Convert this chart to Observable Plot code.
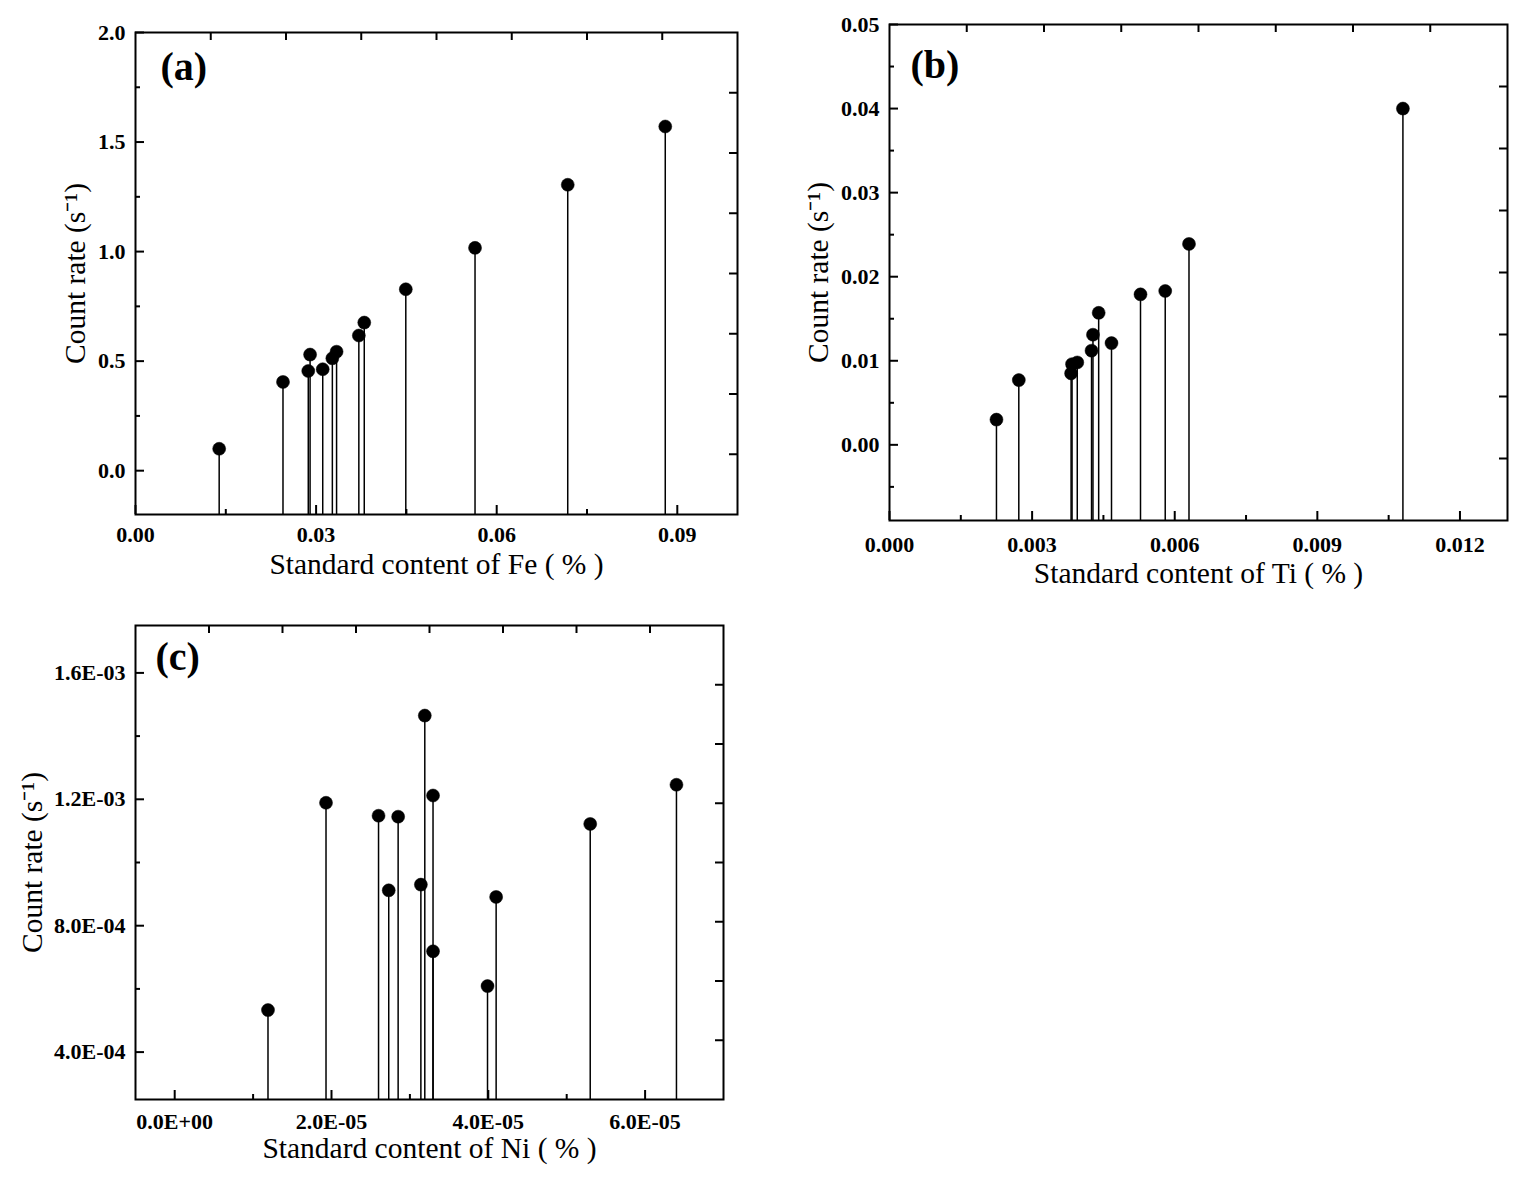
<!DOCTYPE html>
<html>
<head>
<meta charset="utf-8">
<script src="https://cdn.jsdelivr.net/npm/d3@7"></script>
<script src="https://cdn.jsdelivr.net/npm/@observablehq/plot@0.6"></script>
<style>
  body { margin: 0; background: #fff; }
  #root { position: relative; width: 1527px; height: 1201px; background: #fff; overflow: hidden; }
  .panel { position: absolute; }
</style>
</head>
<body>
<div id="root"></div>
<script>
// ---------- Panel (a): Fe ----------
const feContent = [0.0139, 0.0245, 0.0287, 0.0290, 0.0311, 0.0327, 0.0334, 0.0371, 0.0380, 0.0449, 0.0564, 0.0718, 0.0880];
const feRate    = [0.100, 0.405, 0.455, 0.530, 0.463, 0.513, 0.543, 0.617, 0.676, 0.828, 1.017, 1.305, 1.571];
const feXMajor = [0, 0.03, 0.06, 0.09];
const feXMinor = [0.015, 0.045, 0.075];
const feYMajor = [0, 0.5, 1.0, 1.5, 2.0];
const feYMinor = [0.25, 0.75, 1.25, 1.75];
const feTopTicks = [0.0125, 0.025, 0.0375, 0.05, 0.0625, 0.075, 0.0875];
const feRightTicks = [0.075, 0.35, 0.625, 0.9, 1.175, 1.45, 1.725];

// ---------- Panel (b): Ti ----------
const tiContent = [0.00225, 0.00272, 0.00382, 0.00384, 0.00395, 0.00425, 0.00428, 0.00440, 0.00467, 0.00528, 0.00580, 0.00630, 0.01080];
const tiRate    = [0.0030, 0.0077, 0.0085, 0.0096, 0.0098, 0.0112, 0.0131, 0.0157, 0.0121, 0.0179, 0.0183, 0.0239, 0.0400];
const tiXMajor = [0, 0.003, 0.006, 0.009, 0.012];
const tiXMinor = [0.0015, 0.0045, 0.0075, 0.0105];
const tiYMajor = [0, 0.01, 0.02, 0.03, 0.04, 0.05];
const tiYMinor = [-0.005, 0.005, 0.015, 0.025, 0.035, 0.045];
const tiTopTicks = [0.001625, 0.00325, 0.004875, 0.0065, 0.008125, 0.00975, 0.011375];
const tiRightTicks = [-0.001625, 0.00575, 0.013125, 0.0205, 0.027875, 0.03525, 0.042625];

// ---------- Panel (c): Ni ----------
const niContent = [1.19e-5, 1.93e-5, 2.60e-5, 2.73e-5, 2.85e-5, 3.14e-5, 3.19e-5, 3.295e-5, 3.295e-5, 3.99e-5, 4.10e-5, 5.30e-5, 6.40e-5];
const niRate    = [5.33e-4, 1.189e-3, 1.148e-3, 9.12e-4, 1.145e-3, 9.30e-4, 1.465e-3, 1.212e-3, 7.19e-4, 6.09e-4, 8.91e-4, 1.122e-3, 1.246e-3];
const niXMajor = [0, 2e-5, 4e-5, 6e-5];
const niXMinor = [1e-5, 3e-5, 5e-5];
const niYMajor = [4e-4, 8e-4, 1.2e-3, 1.6e-3];
const niYMinor = [6e-4, 1.0e-3, 1.4e-3];
const niTopTicks = [4.375e-6, 1.375e-5, 2.3125e-5, 3.25e-5, 4.1875e-5, 5.125e-5, 6.0625e-5];
const niRightTicks = [4.375e-4, 6.25e-4, 8.125e-4, 1.0e-3, 1.1875e-3, 1.375e-3, 1.5625e-3];

const yTitle = "Count rate (s\u207B\u00B9)";
const FONT = "'Liberation Serif', 'Times New Roman', serif";

function sciFmt(v) {
  const [m, e] = v.toExponential(1).split("e");
  const sign = e[0] === "-" ? "-" : "+";
  const digits = e.replace(/^[+-]/, "").padStart(2, "0");
  return m + "E" + sign + digits;
}

function makePanel(cfg) {
  const W = cfg.width, H = cfg.height;
  const fw = W - cfg.ml - cfg.mr;
  const fh = H - cfg.mt - cfg.mb;
  const data = cfg.xs.map((x, i) => ({x, y: cfg.ys[i]}));
  const ymin = cfg.yDomain[0];
  return Plot.plot({
    width: W, height: H,
    marginLeft: cfg.ml, marginRight: cfg.mr, marginTop: cfg.mt, marginBottom: cfg.mb,
    style: {fontFamily: FONT, background: "transparent", color: "black", overflow: "visible"},
    x: {domain: cfg.xDomain},
    y: {domain: cfg.yDomain},
    marks: [
      // stems
      Plot.ruleX(data, {x: "x", y1: ymin, y2: "y", stroke: "black", strokeWidth: 1.5}),
      Plot.dot(data, {x: "x", y: "y", r: 6.5, fill: "black", stroke: "black", strokeWidth: 0.5}),
      // inward ticks: bottom major/minor
      Plot.tickX(cfg.xMajor, {x: d => d, insetTop: fh - 9, stroke: "black", strokeWidth: 2}),
      Plot.tickX(cfg.xMinor, {x: d => d, insetTop: fh - 5, stroke: "black", strokeWidth: 2}),
      // left major/minor
      Plot.tickY(cfg.yMajor, {y: d => d, insetRight: fw - 9, stroke: "black", strokeWidth: 2}),
      Plot.tickY(cfg.yMinor, {y: d => d, insetRight: fw - 5, stroke: "black", strokeWidth: 2}),
      // top and right ticks
      Plot.tickX(cfg.topTicks, {x: d => d, insetBottom: fh - 8, stroke: "black", strokeWidth: 2}),
      Plot.tickY(cfg.rightTicks, {y: d => d, insetLeft: fw - 8, stroke: "black", strokeWidth: 2}),
      Plot.frame({stroke: "black", strokeWidth: 2}),
      // tick labels
      Plot.axisX({ticks: cfg.xMajor, tickSize: 0, tickPadding: cfg.xPad, tickFormat: cfg.xFmt, label: null,
                  fontSize: 22, fontWeight: "bold", fontFamily: FONT}),
      Plot.axisY({ticks: cfg.yMajor, tickSize: 0, tickPadding: 10, tickFormat: cfg.yFmt, label: null,
                  fontSize: 22, fontWeight: "bold", fontFamily: FONT}),
      // titles
      Plot.text([cfg.xTitle], {frameAnchor: "bottom", lineAnchor: "middle", dy: cfg.xTitleDy, fontSize: 29.5, fontFamily: FONT, textAnchor: "middle"}),
      Plot.text([yTitle], {frameAnchor: "left", lineAnchor: "middle", dx: cfg.yTitleDx, rotate: -90, fontSize: 29.5, fontFamily: FONT, textAnchor: "middle"}),
      Plot.text([cfg.tag], {frameAnchor: "top-left", lineAnchor: "middle", dx: cfg.tagDx, dy: cfg.tagDy, fontSize: 40, fontWeight: "bold", fontFamily: FONT, textAnchor: "start"})
    ]
  });
}

const root = document.getElementById("root");
function place(svg, left, top) {
  const d = document.createElement("div");
  d.className = "panel";
  d.style.left = left + "px";
  d.style.top = top + "px";
  d.appendChild(svg);
  root.appendChild(d);
}

place(makePanel({
  width: 760, height: 600, ml: 135, mr: 23, mt: 32, mb: 86,
  xs: feContent, ys: feRate,
  xDomain: [0, 0.1], yDomain: [-0.2, 2.0],
  xMajor: feXMajor, xMinor: feXMinor, yMajor: feYMajor, yMinor: feYMinor,
  topTicks: feTopTicks, rightTicks: feRightTicks,
  xFmt: d3.format(".2f"), yFmt: d3.format(".1f"), xPad: 12,
  xTitle: "Standard content of Fe ( % )", xTitleDy: 50, yTitleDx: -60,
  tag: "(a)", tagDx: 25, tagDy: 35
}), 0, 0);

place(makePanel({
  width: 757, height: 600, ml: 119, mr: 20, mt: 24, mb: 80,
  xs: tiContent, ys: tiRate,
  xDomain: [0, 0.013], yDomain: [-0.009, 0.05],
  xMajor: tiXMajor, xMinor: tiXMinor, yMajor: tiYMajor, yMinor: tiYMinor,
  topTicks: tiTopTicks, rightTicks: tiRightTicks,
  xFmt: d3.format(".3f"), yFmt: d3.format(".2f"), xPad: 16,
  xTitle: "Standard content of Ti ( % )", xTitleDy: 53, yTitleDx: -71,
  tag: "(b)", tagDx: 21, tagDy: 41
}), 770, 0);

place(makePanel({
  width: 760, height: 601, ml: 135, mr: 37, mt: 25, mb: 102,
  xs: niContent, ys: niRate,
  xDomain: [-5e-6, 7.0e-5], yDomain: [2.5e-4, 1.75e-3],
  xMajor: niXMajor, xMinor: niXMinor, yMajor: niYMajor, yMinor: niYMinor,
  topTicks: niTopTicks, rightTicks: niRightTicks,
  xFmt: sciFmt, yFmt: sciFmt, xPad: 14,
  xTitle: "Standard content of Ni ( % )", xTitleDy: 49, yTitleDx: -103,
  tag: "(c)", tagDx: 20, tagDy: 32
}), 0, 600);
</script>
</body>
</html>
